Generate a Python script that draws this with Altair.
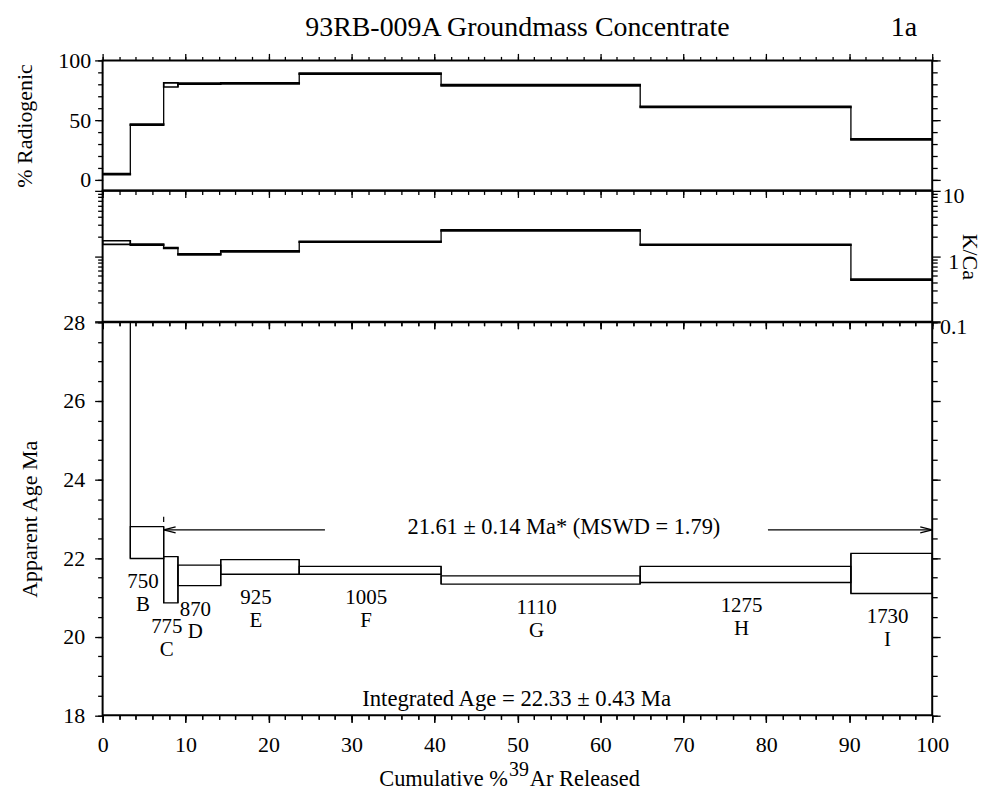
import altair as alt
import pandas as pd

FONT = "Liberation Serif"

# ---------------- data ----------------
steps = ["A", "B", "C", "D", "E", "F", "G", "H", "I"]
temps = ["", "750", "775", "870", "925", "1005", "1110", "1275", "1730"]
cum_pct = [3.34, 7.36, 9.08, 14.24, 23.7, 40.8, 64.8, 90.2, 100.0]
age_lo = [29.8, 21.99, 20.86, 21.30, 21.59, 21.59, 21.34, 21.38, 21.10]
age_hi = [32.6, 22.80, 22.04, 21.82, 21.96, 21.79, 21.55, 21.79, 22.12]
radiogenic = [4.8, 46.2, 79.5, 80.5, 80.8, 88.9, 79.2, 61.2, 33.9]
radiogenic_err = [0.5, 0.5, 1.7, 0.5, 0.5, 0.5, 0.5, 0.5, 0.5]
kca = [1.625, 1.51, 1.34, 1.07, 1.19, 1.67, 2.49, 1.50, 0.44]
kca_err = [0.105, 0.03, 0.025, 0.02, 0.022, 0.032, 0.047, 0.028, 0.0085]

plateau_first_step = 2          # step C
plateau_arrow_age = [22.72]
plateau_gap = [26.8, 80.2]      # break in arrow for the text
plateau_text = ["21.61 \u00b1 0.14 Ma* (MSWD = 1.79)"]
plateau_text_x = [55.6]
integrated_text = ["Integrated Age = 22.33 \u00b1 0.43 Ma"]
integrated_text_pos = [49.9, 18.41]
title_text = ["93RB-009A Groundmass Concentrate"]
panel_tag = ["1a"]

x_major = list(range(0, 101, 10))
x_minor = list(range(0, 101, 2))
rad_major = [0, 50, 100]
rad_minor = list(range(0, 101, 10))
kca_major = [0.1, 1, 10]
kca_minor = [0.2, 0.3, 0.4, 0.5, 0.6, 0.7, 0.8, 0.9, 2, 3, 4, 5, 6, 7, 8, 9]
age_major = [18, 20, 22, 24, 26, 28]
age_minor = [18 + 0.5 * i for i in range(21)]

# ---------------- layout ----------------
W = 833
H1, H2, H3 = 130.6, 131.4, 394.6

XS = alt.Scale(domain=[0, 100], nice=False, zero=False)
YS1 = alt.Scale(domain=[-8.8, 100], nice=False, zero=False)
YS2 = alt.Scale(type="log", domain=[0.1, 10], nice=False)
YS3 = alt.Scale(domain=[18, 28], nice=False, zero=False)

x0 = [0.0] + cum_pct[:-1]
mid = [(a + b) / 2 for a, b in zip(x0, cum_pct)]


def boxes(lo, hi):
    return pd.DataFrame({"step": steps, "x0": x0, "x1": cum_pct, "lo": lo, "hi": hi,
                         "mid": mid, "temp": temps})


def connectors(lo, hi):
    rows = []
    for i in range(len(steps) - 1):
        rows.append({"x": cum_pct[i], "y": min(lo[i], lo[i + 1]), "y2": max(hi[i], hi[i + 1])})
    return pd.DataFrame(rows)


def base_axis(**kw):
    d = dict(domain=False, grid=False, ticks=True, tickColor="black", tickWidth=1.3,
             labelFont=FONT, labelFontSize=22, labelColor="black", labelFlush=False,
             titleFont=FONT, titleFontSize=22, titleFontWeight="normal", titleColor="black")
    d.update(kw)
    return alt.Axis(**d)


def axis_layer(yscale, ydom, xaxis, yaxis):
    df = pd.DataFrame({"x": [0, 100], "y": ydom})
    return alt.Chart(df).mark_point(opacity=0).encode(
        x=alt.X("x:Q", scale=XS, axis=xaxis),
        y=alt.Y("y:Q", scale=yscale, axis=yaxis),
    )


def step_layers(lo, hi, yscale, sw):
    b = alt.Chart(boxes(lo, hi)).mark_rect(
        fill="white", fillOpacity=0, stroke="black", strokeWidth=sw, clip=True
    ).encode(
        x=alt.X("x0:Q", scale=XS, axis=None), x2="x1:Q",
        y=alt.Y("lo:Q", scale=yscale, axis=None), y2="hi:Q",
    )
    c = alt.Chart(connectors(lo, hi)).mark_rule(
        color="black", strokeWidth=1.3, clip=True
    ).encode(
        x=alt.X("x:Q", scale=XS, axis=None),
        y=alt.Y("y:Q", scale=yscale, axis=None), y2="y2:Q",
    )
    return [b, c]


def nolab(values, size, orient):
    return base_axis(orient=orient, values=values, tickSize=size, labels=False, title=None)


# ---------------- top panel: % radiogenic ----------------
rad_lo = [v - e for v, e in zip(radiogenic, radiogenic_err)]
rad_hi = [v + e for v, e in zip(radiogenic, radiogenic_err)]
dom1 = [-8.8, 100]

title_layer = alt.Chart(pd.DataFrame({"t": title_text, "x": [50.0]})).mark_text(
    font=FONT, fontSize=28, baseline="alphabetic", align="center", color="black"
).encode(x=alt.X("x:Q", scale=XS, axis=None), y=alt.value(-24), text="t:N")
tag_layer = alt.Chart(pd.DataFrame({"t": panel_tag, "x": [96.6]})).mark_text(
    font=FONT, fontSize=28, baseline="alphabetic", align="center", color="black"
).encode(x=alt.X("x:Q", scale=XS, axis=None), y=alt.value(-24), text="t:N")

top = alt.layer(
    *step_layers(rad_lo, rad_hi, YS1, 1.6),
    title_layer, tag_layer,
    axis_layer(YS1, dom1, nolab(x_major, 7, "bottom"),
               base_axis(orient="left", values=rad_major, tickSize=8, labelPadding=4,
                         title="% Radiogenic", titleX=-78, titleY=H1 / 2, titleAngle=270,
                         titleBaseline="middle")),
    axis_layer(YS1, dom1, nolab(x_minor, 4, "bottom"), nolab(rad_minor, 5, "left")),
    axis_layer(YS1, dom1, nolab(x_major, 7, "top"), nolab(rad_major, 8, "right")),
    axis_layer(YS1, dom1, nolab(x_minor, 4, "top"), nolab(rad_minor, 5, "right")),
).resolve_axis(x="independent", y="independent").properties(width=W, height=H1)

# ---------------- middle panel: K/Ca ----------------
k_lo = [v - e for v, e in zip(kca, kca_err)]
k_hi = [v + e for v, e in zip(kca, kca_err)]
dom2 = [0.1, 10]

middle = alt.layer(
    *step_layers(k_lo, k_hi, YS2, 1.6),
    axis_layer(YS2, dom2, nolab(x_major, 7, "bottom"), nolab(kca_major, 8, "left")),
    axis_layer(YS2, dom2, nolab(x_minor, 4, "bottom"), nolab(kca_minor, 5, "left")),
    axis_layer(YS2, dom2, nolab(x_major, 7, "bottom"),
               base_axis(orient="right", values=kca_major, tickSize=8, labelPadding=13,
                         labelAlign="center", labelBaseline="middle", labelOffset=5, format="~g",
                         title="K/Ca", titleX=37.5, titleY=H2 / 2, titleAngle=90,
                         titleBaseline="middle")),
    axis_layer(YS2, dom2, nolab(x_minor, 4, "bottom"), nolab(kca_minor, 5, "right")),
).resolve_axis(x="independent", y="independent").properties(width=W, height=H2)

# ---------------- bottom panel: apparent age ----------------
dom3 = [18, 28]
bx = boxes(age_lo, age_hi)
lab_df = bx[bx["temp"] != ""]

temp_labels = alt.Chart(lab_df).mark_text(
    font=FONT, fontSize=21, baseline="middle", align="center", dx=-4, dy=24, color="black"
).encode(x=alt.X("mid:Q", scale=XS, axis=None), y=alt.Y("lo:Q", scale=YS3, axis=None), text="temp:N")
step_labels = alt.Chart(lab_df).mark_text(
    font=FONT, fontSize=21, baseline="middle", align="center", dx=-4, dy=47, color="black"
).encode(x=alt.X("mid:Q", scale=XS, axis=None), y=alt.Y("lo:Q", scale=YS3, axis=None), text="step:N")

p_start = x0[plateau_first_step]
p_end = cum_pct[-1]
arrow_df = pd.DataFrame({
    "x": [p_start, plateau_gap[1]],
    "x2": [plateau_gap[0], p_end],
    "y": plateau_arrow_age * 2,
})
arrow_lines = alt.Chart(arrow_df).mark_rule(color="black", strokeWidth=1.3).encode(
    x=alt.X("x:Q", scale=XS, axis=None), x2="x2:Q", y=alt.Y("y:Q", scale=YS3, axis=None))
head_left = alt.Chart(pd.DataFrame({"x": [p_start], "y": plateau_arrow_age})).mark_point(
    shape="M 2 -0.5 L 0 0 L 2 0.5", size=144, filled=False, color="black", strokeWidth=1.3, opacity=1
).encode(x=alt.X("x:Q", scale=XS, axis=None), y=alt.Y("y:Q", scale=YS3, axis=None))
head_right = alt.Chart(pd.DataFrame({"x": [p_end], "y": plateau_arrow_age})).mark_point(
    shape="M -2 -0.5 L 0 0 L -2 0.5", size=144, filled=False, color="black", strokeWidth=1.3, opacity=1
).encode(x=alt.X("x:Q", scale=XS, axis=None), y=alt.Y("y:Q", scale=YS3, axis=None))
start_tick = alt.Chart(pd.DataFrame({"x": [p_start], "y": [plateau_arrow_age[0] + 0.2],
                                     "y2": [plateau_arrow_age[0] + 0.33]})).mark_rule(
    color="black", strokeWidth=1.2
).encode(x=alt.X("x:Q", scale=XS, axis=None), y=alt.Y("y:Q", scale=YS3, axis=None), y2="y2:Q")

plateau_label = alt.Chart(pd.DataFrame({"t": plateau_text, "x": plateau_text_x, "y": plateau_arrow_age})).mark_text(
    font=FONT, fontSize=22.5, baseline="middle", align="center", dy=-3, color="black"
).encode(x=alt.X("x:Q", scale=XS, axis=None), y=alt.Y("y:Q", scale=YS3, axis=None), text="t:N")
integrated_label = alt.Chart(pd.DataFrame({"t": integrated_text, "x": [integrated_text_pos[0]],
                                           "y": [integrated_text_pos[1]]})).mark_text(
    font=FONT, fontSize=22.8, baseline="middle", align="center", color="black"
).encode(x=alt.X("x:Q", scale=XS, axis=None), y=alt.Y("y:Q", scale=YS3, axis=None), text="t:N")

xt = pd.DataFrame({"t": ["Cumulative %", "39", "Ar Released"]})
xt1 = alt.Chart(xt.iloc[[0]]).mark_text(font=FONT, fontSize=22.5, align="right", baseline="alphabetic", color="black").encode(
    x=alt.value(407), y=alt.value(H3 + 71), text="t:N")
xt2 = alt.Chart(xt.iloc[[1]]).mark_text(font=FONT, fontSize=20, align="left", baseline="alphabetic", color="black").encode(
    x=alt.value(408), y=alt.value(H3 + 61), text="t:N")
xt3 = alt.Chart(xt.iloc[[2]]).mark_text(font=FONT, fontSize=22.5, align="left", baseline="alphabetic", color="black").encode(
    x=alt.value(429), y=alt.value(H3 + 71), text="t:N")

bottom = alt.layer(
    *step_layers(age_lo, age_hi, YS3, 1.3),
    temp_labels, step_labels, arrow_lines, head_left, head_right, start_tick,
    plateau_label, integrated_label, xt1, xt2, xt3,
    axis_layer(YS3, dom3,
               base_axis(orient="bottom", values=x_major, tickSize=7, labelPadding=12, title=None),
               base_axis(orient="left", values=age_major, tickSize=8, labelPadding=10,
                         title="Apparent Age Ma", titleX=-73, titleY=H3 / 2, titleAngle=270,
                         titleBaseline="middle")),
    axis_layer(YS3, dom3, nolab(x_minor, 4, "bottom"), nolab(age_minor, 5, "left")),
    axis_layer(YS3, dom3, nolab(x_major, 7, "bottom"), nolab(age_major, 8, "right")),
    axis_layer(YS3, dom3, nolab(x_minor, 4, "bottom"), nolab(age_minor, 5, "right")),
).resolve_axis(x="independent", y="independent").properties(width=W, height=H3)

chart = alt.vconcat(top, middle, bottom, spacing=0, bounds="flush").properties(
    padding={"left": 4, "top": 4, "right": 2, "bottom": 0}, background="white"
).configure_view(stroke="black", strokeWidth=2)

chart.save("out.html", embed_options={"renderer": "svg", "actions": False})
